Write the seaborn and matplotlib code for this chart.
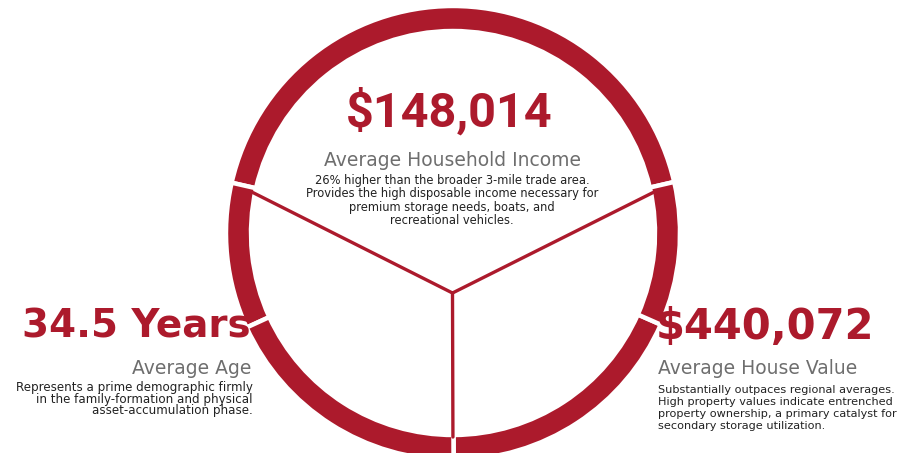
import numpy as np
import matplotlib
matplotlib.use("Agg")
import matplotlib.pyplot as plt
import seaborn as sns

# ---- data ----
values = ["$148,014", "34.5 Years", "$440,072"]
labels = ["Average Household Income", "Average Age", "Average House Value"]
descriptions = [
    "26% higher than the broader 3-mile trade area.\nProvides the high disposable income necessary for\npremium storage needs, boats, and\nrecreational vehicles.",
    "Represents a prime demographic firmly\nin the family-formation and physical\nasset-accumulation phase.",
    "Substantially outpaces regional averages.\nHigh property values indicate entrenched\nproperty ownership, a primary catalyst for\nsecondary storage utilization.",
]
ring_spans = [154.2, 37.4, 65.6, 66.0, 36.8]   # ring segments (degrees)
divider_angles = [167.0, 13.0, 270.0]          # where the dividers meet the ring

RED = "#AC1A2C"
GREY = "#6E6E6E"
DARK = "#222222"

sns.set_theme(style="white")
plt.rcParams["font.family"] = ["DejaVu Sans"]

W, H = 907, 453
fig = plt.figure(figsize=(W / 100, H / 100), dpi=100)
fig.patch.set_facecolor("white")
ax = fig.add_axes([0, 0, 1, 1])

cx, cy = 453, H - 233
r_out, ring_w = 227, 25
r_in = r_out - ring_w

ax.pie(ring_spans, startangle=13.0, counterclock=True, radius=r_out,
       center=(cx, cy), colors=[RED] * len(ring_spans),
       wedgeprops=dict(width=ring_w, edgecolor="white", linewidth=3.2))

# dividers from the hub to the inner edge of the ring
hub = np.array([452.5, H - 293.0])
C = np.array([cx, cy], dtype=float)
for a in divider_angles:
    target = C + r_out * np.array([np.cos(np.radians(a)), np.sin(np.radians(a))])
    d = target - hub
    d = d / np.linalg.norm(d)
    f = hub - C
    b = 2 * f.dot(d)
    c = f.dot(f) - r_in ** 2
    t = (-b + np.sqrt(b * b - 4 * c)) / 2
    end = hub + d * (t + 2)
    sns.lineplot(x=[hub[0], end[0]], y=[hub[1], end[1]], ax=ax, color=RED,
                 linewidth=2.4, sort=False, estimator=None, zorder=1)

ax.set_xlim(0, W)
ax.set_ylim(0, H)
ax.set_aspect("equal")
ax.axis("off")

def Y(y):
    return H - y

# top block
ax.text(449, Y(112), values[0], ha="center", va="center", fontsize=35,
        fontweight="bold", color=RED, family="Roboto")
ax.text(452, Y(160), labels[0], ha="center", va="center", fontsize=13.5,
        color=GREY, family="DejaVu Sans")
ax.text(452, Y(174), descriptions[0], ha="center", va="top", fontsize=8.3,
        color=DARK, linespacing=1.05, family="DejaVu Sans")

# left block
ax.text(251, Y(327), values[1], ha="right", va="center", fontsize=28,
        fontweight="bold", color=RED, family="DejaVu Sans")
ax.text(251, Y(368), labels[1], ha="right", va="center", fontsize=13.5,
        color=GREY, family="DejaVu Sans")
ax.text(253, Y(381), descriptions[1], ha="right", va="top", fontsize=8.6,
        color=DARK, linespacing=0.87, family="DejaVu Sans")

# right block
ax.text(656, Y(327), values[2], ha="left", va="center", fontsize=30,
        fontweight="bold", color=RED, family="DejaVu Sans")
ax.text(658, Y(369), labels[2], ha="left", va="center", fontsize=13.5,
        color=GREY, family="DejaVu Sans")
ax.text(658, Y(385), descriptions[2], ha="left", va="top", fontsize=8.1,
        color=DARK, linespacing=1.25, family="DejaVu Sans")

fig.savefig("out.png", dpi=100, facecolor="white")
